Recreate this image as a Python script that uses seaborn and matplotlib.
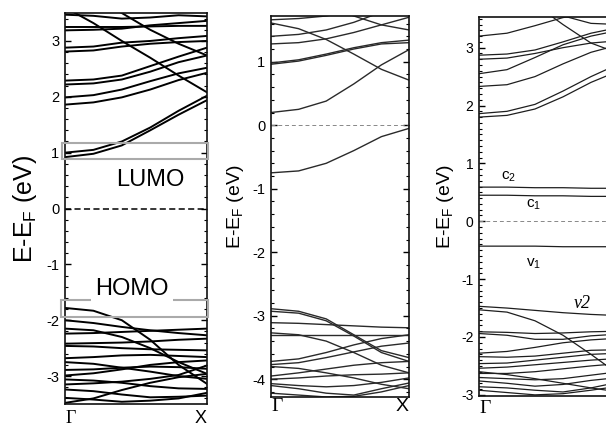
import pandas as pd
import matplotlib
matplotlib.use("Agg")
import matplotlib.pyplot as plt
import seaborn as sns
from matplotlib.patches import Rectangle
from matplotlib.ticker import MultipleLocator

# k points from Gamma to X, energies (eV)
K = [0.0, 0.2, 0.4, 0.6, 0.8, 1.0]

# panel 1 (left)
p1_cond = [
    [1.00, 1.05, 1.20, 1.45, 1.75, 2.02],
    [0.92, 0.98, 1.13, 1.40, 1.68, 1.94],
    [1.99, 2.03, 2.13, 2.28, 2.42, 2.52],
    [1.86, 1.90, 1.99, 2.13, 2.30, 2.43],
    [2.29, 2.31, 2.38, 2.55, 2.72, 2.88],
    [2.22, 2.24, 2.31, 2.45, 2.62, 2.74],
    [2.88, 2.90, 2.97, 3.00, 3.05, 3.09],
    [2.81, 2.83, 2.90, 2.95, 2.98, 3.00],
    [3.60, 3.32, 3.00, 2.70, 2.38, 2.08],
    [3.95, 3.75, 3.50, 3.20, 2.95, 2.74],
    [3.25, 3.25, 3.25, 3.26, 3.27, 3.27],
    [3.19, 3.20, 3.22, 3.28, 3.32, 3.36],
    [3.47, 3.45, 3.40, 3.42, 3.46, 3.44],
]
p1_val = [
    [-1.78, -1.83, -2.00, -2.35, -2.80, -3.14],
    [-2.00, -2.05, -2.12, -2.18, -2.23, -2.27],
    [-2.15, -2.18, -2.30, -2.50, -2.75, -2.96],
    [-2.24, -2.23, -2.21, -2.19, -2.17, -2.15],
    [-2.42, -2.41, -2.40, -2.38, -2.35, -2.33],
    [-2.46, -2.47, -2.50, -2.52, -2.53, -2.54],
    [-2.68, -2.66, -2.63, -2.62, -2.64, -2.66],
    [-2.75, -2.78, -2.85, -2.92, -3.00, -3.05],
    [-2.89, -2.88, -2.85, -2.83, -2.84, -2.87],
    [-2.99, -2.95, -2.88, -2.80, -2.75, -2.72],
    [-3.06, -3.08, -3.12, -3.18, -3.22, -3.23],
    [-3.15, -3.13, -3.10, -3.05, -2.98, -2.81],
    [-3.24, -3.27, -3.33, -3.38, -3.37, -3.35],
    [-3.39, -3.42, -3.46, -3.44, -3.40, -3.30],
    [-3.48, -3.40, -3.25, -3.12, -3.02, -2.96],
]

# panel 2 (middle)
p2_cond = [
    [0.20, 0.25, 0.38, 0.65, 0.95, 1.19],
    [1.61, 1.52, 1.35, 1.12, 0.88, 0.71],
    [0.98, 1.03, 1.12, 1.22, 1.30, 1.34],
    [0.96, 1.01, 1.10, 1.20, 1.28, 1.30],
    [1.40, 1.43, 1.50, 1.62, 1.78, 1.95],
    [1.28, 1.30, 1.36, 1.46, 1.58, 1.70],
    [1.66, 1.68, 1.72, 1.80, 1.90, 2.00],
    [2.20, 2.05, 1.88, 1.72, 1.58, 1.50],
]
p2_val = [
    [-0.75, -0.72, -0.60, -0.40, -0.18, -0.05],
    [-2.89, -2.93, -3.05, -3.30, -3.55, -3.66],
    [-2.93, -2.96, -3.08, -3.32, -3.58, -3.72],
    [-3.11, -3.12, -3.14, -3.16, -3.18, -3.19],
    [-3.27, -3.30, -3.40, -3.58, -3.78, -3.90],
    [-3.31, -3.31, -3.31, -3.31, -3.31, -3.31],
    [-3.72, -3.68, -3.58, -3.46, -3.36, -3.30],
    [-3.77, -3.74, -3.66, -3.57, -3.48, -3.43],
    [-3.95, -3.90, -3.84, -3.78, -3.74, -3.72],
    [-4.00, -3.98, -3.95, -3.93, -3.92, -3.90],
    [-4.07, -4.10, -4.12, -4.10, -4.05, -3.98],
    [-4.10, -4.15, -4.22, -4.25, -4.15, -4.06],
    [-4.22, -4.25, -4.28, -4.27, -4.20, -4.10],
    [-3.80, -3.83, -3.90, -3.98, -4.08, -4.15],
]

# panel 3 (right, cut at the figure edge)
p3_cond = [
    [0.59, 0.59, 0.58, 0.58, 0.57, 0.57],
    [0.45, 0.45, 0.44, 0.44, 0.43, 0.43],
    [1.86, 1.90, 2.02, 2.25, 2.50, 2.72],
    [1.80, 1.83, 1.94, 2.15, 2.40, 2.60],
    [2.33, 2.36, 2.50, 2.72, 2.92, 3.05],
    [2.55, 2.62, 2.83, 3.05, 3.20, 3.30],
    [2.87, 2.89, 2.96, 3.10, 3.25, 3.35],
    [2.80, 2.82, 2.90, 3.00, 3.08, 3.12],
    [4.30, 4.05, 3.75, 3.40, 3.08, 2.90],
    [3.20, 3.25, 3.38, 3.52, 3.60, 3.65],
    [3.90, 3.80, 3.70, 3.55, 3.42, 3.40],
]
p3_val = [
    [-0.43, -0.43, -0.43, -0.44, -0.44, -0.44],
    [-1.47, -1.50, -1.54, -1.58, -1.61, -1.63],
    [-1.53, -1.57, -1.72, -1.97, -2.30, -2.65],
    [-1.91, -1.92, -1.94, -1.93, -1.91, -1.90],
    [-1.94, -1.97, -2.04, -2.04, -1.98, -1.95],
    [-2.28, -2.25, -2.18, -2.10, -2.05, -2.02],
    [-2.34, -2.35, -2.33, -2.28, -2.23, -2.22],
    [-2.46, -2.45, -2.40, -2.35, -2.30, -2.28],
    [-2.54, -2.52, -2.48, -2.44, -2.40, -2.37],
    [-2.63, -2.63, -2.60, -2.55, -2.50, -2.46],
    [-2.70, -2.72, -2.74, -2.72, -2.66, -2.60],
    [-2.76, -2.80, -2.85, -2.82, -2.75, -2.70],
    [-2.86, -2.88, -2.92, -2.95, -2.88, -2.78],
    [-2.92, -2.96, -3.00, -2.98, -2.92, -2.85],
    [-2.60, -2.65, -2.72, -2.80, -2.88, -2.95],
]

kpath_labels = ["\u0393", "X"]


def bands_df(bands):
    rows = []
    for i, b in enumerate(bands):
        for k, e in zip(K, b):
            rows.append((i, k, e))
    return pd.DataFrame(rows, columns=["band", "k", "E"])


sns.set_style("ticks")
plt.rcParams["font.family"] = ["Liberation Sans", "DejaVu Sans"]
plt.rcParams["mathtext.default"] = "regular"
plt.rcParams["axes.unicode_minus"] = False
plt.rcParams["text.color"] = "black"
plt.rcParams["axes.labelcolor"] = "black"
plt.rcParams["xtick.color"] = "black"
plt.rcParams["ytick.color"] = "black"

fig = plt.figure(figsize=(6.06, 4.23), dpi=100)
ax1 = fig.add_axes([0.1073, 0.0449, 0.2343, 0.9243])
ax2 = fig.add_axes([0.4472, 0.0615, 0.2277, 0.9007])
ax3 = fig.add_axes([0.7904, 0.0638, 0.2310, 0.8960])

setup = [
    # ax, bands, ylim, minor, line colour, lw, tick size, label size, label x, zero style, gamma pad
    (ax1, p1_cond + p1_val, (-3.5, 3.5), 0.2, "black", 1.4, 10.5, 18, -0.28,
     dict(color="black", lw=1.1, ls=(0, (4, 2.2))), 4),
    (ax2, p2_cond + p2_val, (-4.28, 1.72), 0.2, "#2a2a2a", 1.0, 10.5, 14, -0.26,
     dict(color="#888888", lw=0.7, ls=(0, (4, 3))), 0.5),
    (ax3, p3_cond + p3_val, (-3.02, 3.53), 0.1, "#1e1e1e", 0.9, 10, 14, -0.236,
     dict(color="#888888", lw=0.7, ls=(0, (4, 3))), 3),
]

for ax, bands, ylim, minor, col, lw, tsz, lsz, lx, zsty, xpad in setup:
    df = bands_df(bands)
    sns.lineplot(data=df, x="k", y="E", units="band", estimator=None,
                 color=col, lw=lw, ax=ax, legend=False)
    ax.axhline(0, zorder=1, **zsty)
    ax.set_xlim(0, 1)
    ax.set_ylim(*ylim)
    ax.yaxis.set_major_locator(MultipleLocator(1))
    ax.yaxis.set_minor_locator(MultipleLocator(minor))
    ax.tick_params(axis="y", which="both", direction="in", left=True, right=True,
                   labelsize=tsz, pad=4)
    ax.tick_params(axis="y", which="major", length=4, width=1)
    ax.tick_params(axis="y", which="minor", length=2, width=0.8)
    ax.set_xticks([0, 1])
    ax.set_xticklabels(kpath_labels)
    ax.tick_params(axis="x", length=0, pad=xpad, labelsize=14)
    ax.get_xticklabels()[0].set_ha("left")
    ax.get_xticklabels()[0].set_fontfamily("Liberation Serif")
    ax.get_xticklabels()[1].set_ha("right")
    ax.set_xlabel("")
    ax.set_ylabel("E-E$_F$ (eV)", fontsize=lsz, va="center")
    ax.yaxis.set_label_coords(lx, 0.5)
    for s in ax.spines.values():
        s.set_linewidth(1.2)
        s.set_color("#111111")

ax1.tick_params(axis="x", labelsize=13)

# LUMO / HOMO boxes on panel 1
ax1.add_patch(Rectangle((-0.02, 0.88), 1.025, 0.30, fill=False, ec="#aaaaaa",
                        lw=1.5, clip_on=False, zorder=3))
ax1.add_patch(Rectangle((-0.025, -1.95), 1.03, 0.32, fill=False, ec="#aaaaaa",
                        lw=1.5, clip_on=False, zorder=3))
ax1.text(0.6, 0.51, "LUMO", fontsize=17, ha="center", va="center", zorder=4)
ax1.text(0.47, -1.44, "HOMO", fontsize=17, ha="center", va="center", zorder=4,
         bbox=dict(facecolor="white", edgecolor="none", pad=3))

# state labels on panel 3
ax3.text(0.21, 0.76, "c$_2$", fontsize=11, ha="center", va="center")
ax3.text(0.39, 0.28, "c$_1$", fontsize=11, ha="center", va="center")
ax3.text(0.39, -0.73, "v$_1$", fontsize=11, ha="center", va="center")
ax3.text(0.74, -1.42, "\u03bd2", fontsize=13, ha="center", va="center",
         family="Liberation Serif", style="italic")

fig.savefig("out.png", dpi=100)
